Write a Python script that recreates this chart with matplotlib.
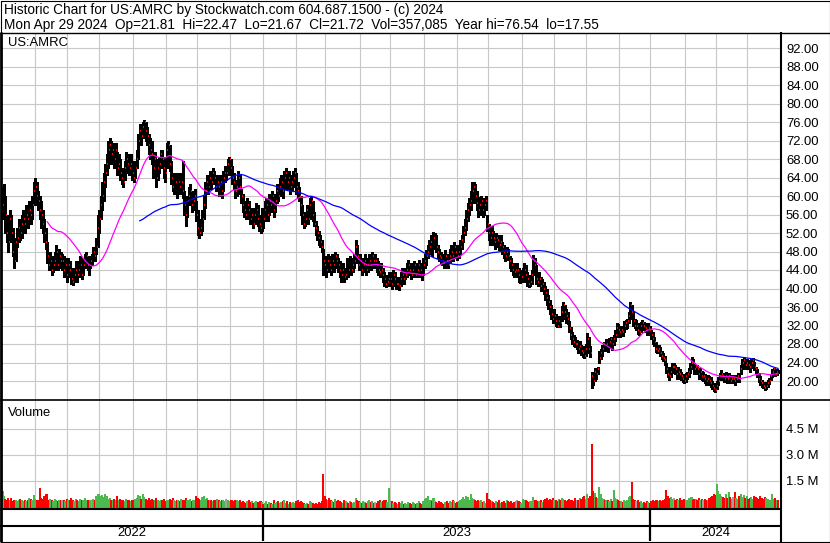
import matplotlib
matplotlib.use("Agg")
import matplotlib.pyplot as plt
import numpy as np
import pandas as pd

plt.rcParams['font.family'] = ['Liberation Sans', 'DejaVu Sans']

# trading days shown on the chart
dates = pd.bdate_range('2022-05-02', '2024-04-29')

# daily closes, one week per line
close = [
    58, 61, 56, 52, 50,  55, 52, 48, 46, 50,  51, 53, 52, 54, 55,  54, 56, 55, 57, 56,
    58, 61, 62, 60, 59,  57, 56, 54, 52, 50,  47, 45, 46, 44, 45,  46, 48, 45, 47, 46,
    46, 44, 45, 43, 45,  44, 42, 41.5, 43, 44,  43, 44, 45, 43, 45,  46, 47, 45, 44, 46,
    46, 48, 47, 49, 53,  55, 58, 60, 63, 65,  67, 70, 71, 69, 70,  68, 70, 66, 67, 65,
    64, 63, 66, 68, 67,  66, 67, 65, 64, 66,  68, 72, 74, 73, 75,  76, 74, 73, 71, 70,
    69, 66, 68, 64, 66,  67, 69, 68, 66, 65,  70, 71, 67, 64, 62,  62, 63, 61, 63, 62,
    63, 61, 58, 56, 59,  60, 61, 58, 59, 60,  56, 53, 52, 53, 55,  58, 61, 63, 62, 64,
    63, 65, 64, 62, 63,  62, 63, 61, 64, 65,  65, 67, 68, 66, 64,  63, 61, 62, 64, 62,
    60, 58, 57, 56, 58,  57, 55, 56, 54, 56,  57, 55, 54, 53, 56,  55, 57, 58, 56, 59,
    58, 60, 57, 59, 61,  60, 62, 63, 61, 64,  65, 63, 64, 62, 63,  64, 65, 62, 61, 60,
    58, 56, 54, 55, 57,  55, 58, 59, 56, 54,  53, 52, 51, 50, 49,  46, 45, 44, 46, 45,
    44, 46, 45, 47, 46,  45, 44, 43, 44, 42.5,  43, 45, 44, 46, 44,  45, 46, 49, 47, 45,
    46, 44, 45, 46, 44,  45, 46, 45, 47, 46,  46, 45, 44, 43.5, 44,  43, 42, 41, 41.5, 42,
    42, 41, 43, 42, 41,  41, 40.5, 42, 43, 42,  43, 44, 45, 44, 43,  44, 45, 43, 44, 45,
    44, 43, 45, 46, 47,  48, 49, 50, 48, 51,  51, 49, 48, 47, 46.5,  46, 45.5, 47, 46, 45,
    47, 48, 47, 49, 48,  47, 48, 49, 50.5, 52,  53, 55, 57, 58, 59,  61, 62, 60, 58.5, 57,
    58, 59, 57, 58, 59,  54, 52, 51, 52, 51,  50, 51, 50.5, 49.5, 50,  49, 48, 47, 48, 47,
    46, 45, 44, 43.5, 44,  44, 43, 42, 42.5, 43,  44, 43, 42, 41, 41.5,  43, 46, 45, 42, 41.5,
    42, 40.5, 41, 40, 39,  38, 37, 36, 34.5, 33.5,  34, 33, 32, 33, 32.5,  35, 36.5, 35, 34, 33.5,
    31.5, 30, 29, 28.5, 28,  28, 27, 27.5, 26.5, 26,  25.5, 27, 29, 27, 26,  21, 20, 22, 21.5, 22.5,
    25, 26, 27, 28, 27.5,  28, 27.5, 28.5, 29, 28,  29, 30, 31.5, 31, 30.5,  31, 30.5, 32, 32.5, 33,
    34, 36.5, 35, 33, 32,  32, 31, 30.5, 32, 32.5,  32, 31.5, 31, 31.5, 31,  30, 29, 28.5, 27, 26.5,
    27, 26, 25.5, 25, 24.5,  22.5, 21.5, 21, 22, 23,  23, 22.5, 21.5, 22, 21.5,  21, 20.5, 20, 21, 21.5,
    22, 23, 24, 23.5, 22.5,  23, 22.5, 21.5, 22, 21,  21, 20.5, 20, 20.5, 20,  19.5, 19, 18.5, 18, 19,
    20, 21, 21.5, 21, 20.5,  21, 20.5, 21, 20, 20.5,  20.5, 20, 20.5, 21, 20.5,  22.5, 24, 24.5, 23.5, 24,
    23.5, 23, 24, 24.5, 23,  22.5, 21.5, 20.5, 20, 19.5,  19, 18.5, 19, 19.5, 20,  21, 22, 22.5, 21.5, 22,
    21.72,
]

high = [
    62, 62.5, 60, 56, 53,  57, 56, 53, 49, 51,  53, 55, 54, 56, 57,  56, 58, 57, 59, 59,
    60, 63, 64, 63, 61,  60, 59, 57, 55, 53,  50, 48, 48, 47, 47,  48, 49.5, 48, 48.5, 48,
    47.5, 47, 46.5, 45.5, 46.5,  46, 44.5, 43.5, 44.5, 46,  45, 46, 47, 45.5, 46.5,  47.5, 48, 47, 46, 47,
    47.5, 49, 49, 51, 56,  57, 60, 63, 65, 67,  69, 72, 72.5, 72, 71.5,  71, 71.5, 69.5, 69, 68,
    66, 65.5, 67.5, 69.5, 69,  68, 69, 67.5, 66, 67.5,  70, 73.5, 75.5, 75, 76,  76.5, 76, 75, 73.5, 72.5,
    72, 69.5, 69.5, 68, 67.5,  68.5, 70, 70, 68.5, 67,  71.5, 72, 71, 67.5, 65,  64, 65, 63.5, 65, 64.5,
    65, 67.5, 61, 58.5, 60,  62, 62.5, 61, 60.5, 61.5,  59, 57, 55, 55, 57,  60, 63, 64.5, 64, 65.5,
    65, 66, 65.5, 64.5, 64.5,  64, 64.5, 63, 65.5, 66.5,  66.5, 68, 68.5, 68, 66.5,  65, 63.5, 63.5, 65.5, 64.5,
    61.5, 60.5, 59, 58, 59.5,  59, 57.5, 57.5, 56, 57.5,  58.5, 58, 56, 55, 57.5,  57, 59, 59.5, 58.5, 60.5,
    60, 61, 60, 60.5, 62.5,  62, 64, 64.5, 63.5, 65.5,  66, 65.5, 65.5, 64.5, 64.5,  65.5, 66, 65, 63, 62,
    60, 58, 56.5, 56.5, 58,  57.5, 59.5, 60, 59, 56.5,  54.5, 53.5, 52.5, 51.5, 50.5,  48.5, 47, 46, 47.5, 47,
    46, 47.5, 47, 48, 47.5,  46.5, 46, 45, 45.5, 44.5,  44.5, 46.5, 46, 47, 46,  46.5, 47.5, 50.5, 49.5, 47,
    47.5, 46.5, 46.5, 47.5, 46,  46.5, 47.5, 47, 48, 47.5,  47.5, 46.5, 46, 45, 45.5,  44.5, 43.5, 42.5, 43, 43.5,
    43.5, 42.5, 44, 43.5, 42.5,  42.5, 42, 43.5, 44.5, 43.5,  44.5, 45.5, 46.2, 45.5, 44.5,  45.5, 46, 45, 45.5, 46.2,
    45.5, 45, 46.5, 47.5, 48.3,  49.5, 50.5, 51.5, 50, 52.2,  52, 51.5, 49.5, 48.5, 48,  47.5, 47, 48.3, 47.5, 46.5,
    48.5, 49.5, 48.5, 50, 49.5,  48.5, 49.5, 50.5, 51.5, 53.5,  55, 57, 58.5, 59.5, 61,  63, 63, 62.5, 61, 59,
    59.8, 60, 59, 59.5, 60,  56, 54, 53, 53.5, 52.5,  51.5, 52, 51.5, 51, 51.5,  50, 49.5, 48.5, 49, 48.5,
    47, 46.5, 45.5, 45, 45.5,  45.5, 44.5, 43.5, 44, 44.5,  45.5, 45, 43.5, 42.5, 43,  44, 47.2, 46.5, 45, 43,
    43.5, 42.5, 42, 41.5, 40.5,  40, 38.5, 37.5, 36.5, 35,  35.5, 34.5, 33.5, 34, 34,  36.2, 37, 36.5, 35.5, 35,
    33, 31.7, 30.5, 30, 29.5,  28.9, 28.5, 28.6, 27.8, 27.5,  26.8, 28, 30.4, 29.5, 27.5,  22, 21.5, 22.8, 22.5, 23,
    26.5, 27, 27.8, 28.5, 28.3,  29, 28.6, 29.3, 29.5, 29,  30, 31, 32.5, 32.3, 31.5,  32, 31.5, 33, 33.2, 33.5,
    35, 37, 36.5, 35, 33.5,  33.2, 32.5, 31.5, 32.8, 33.2,  32.8, 32.5, 32, 32.5, 32,  31, 30.5, 29.5, 28.5, 27.8,
    27.8, 27.3, 26.5, 26, 25.5,  24, 23, 22.3, 23, 24,  24, 23.5, 23, 23, 22.6,  22, 21.5, 21, 21.8, 22,
    22.8, 24, 25.2, 24.8, 23.8,  23.5, 23.5, 22.8, 22.8, 22.2,  22, 21.5, 21, 21.3, 21,  20.8, 20, 19.5, 19, 20,
    20.8, 21.8, 22.4, 21.8, 21.3,  22, 21.4, 21.8, 21, 21.3,  21.3, 20.8, 21.2, 21.7, 21.4,  23.5, 24.8, 25.2, 24.6, 24.8,
    24.5, 24, 24.8, 25, 24.2,  23, 22.6, 21.8, 21, 20.3,  19.8, 19.3, 19.7, 20.2, 20.7,  21.6, 22.6, 22.9, 22.6, 22.6,
    22.47,
]

low = [
    55, 57, 52, 50, 48,  50, 51, 47, 44.5, 46,  49, 50, 50.5, 51, 53,  52, 53, 53, 54, 54,
    55, 58, 59, 58, 57,  55, 53, 52, 50, 48.5,  45.5, 44, 44, 43, 43.5,  44, 45.5, 44, 44.5, 44.5,
    44, 42.5, 43, 41.5, 43,  42.5, 41, 40.8, 41.5, 42.5,  41.5, 42.5, 43.5, 42, 43,  44.5, 45.5, 44, 43, 44.5,
    45, 46, 46, 47.5, 49,  52, 55, 57, 59, 62,  64.5, 66, 68, 67, 67.5,  66, 67, 64.5, 64.5, 63.5,
    62.5, 62, 63.5, 65.5, 65,  64.5, 65, 63.5, 63, 64,  66, 68, 71, 71, 72.5,  73, 72, 71, 69, 68,
    67, 64, 65, 62, 63.5,  65, 66.5, 66, 64, 63,  66, 68.5, 65.5, 62.5, 61,  60.5, 61, 59.5, 60.5, 60.5,
    61, 59.5, 56, 53.5, 55.5,  58, 59, 56.5, 57, 58,  54.5, 51.5, 51, 51.5, 52.5,  55, 57.5, 60.5, 60.5, 61.5,
    61.5, 62.5, 62.5, 61, 61.5,  60, 61, 59.5, 61, 63,  63.5, 64.5, 66, 64.5, 62.5,  61.5, 59.5, 60, 61.5, 60.5,
    58.5, 56.5, 55.5, 55, 56,  55, 54, 54, 53, 54,  55, 53.5, 52.5, 52, 52.5,  53, 54.5, 56, 54.5, 56,
    56.5, 57.5, 55.5, 56.5, 58.5,  59, 60, 61, 59.5, 61.5,  63, 61.5, 62, 60.5, 61,  62, 63, 60.5, 59.5, 59,
    56, 54, 53, 53.5, 55,  54, 55, 57, 54.5, 53.5,  51.5, 50.5, 49.5, 49, 48,  43, 43.5, 42.5, 43.5, 43.5,
    43, 43.5, 43.5, 45, 44.5,  43.5, 42.5, 41.5, 42.5, 41.5,  42, 43, 42.5, 44, 43,  43.5, 44.5, 45.5, 45.5, 44,
    44.5, 43, 43.5, 44.5, 43,  43.5, 44.5, 44, 45, 44.5,  44.5, 43.5, 43, 42.5, 43,  41.5, 40.5, 40.3, 40.5, 41,
    40.5, 39.8, 41, 40.5, 39.8,  40, 39.7, 40.5, 41.5, 41,  42, 42.5, 43.5, 43, 42,  42.5, 43.5, 42.5, 42.5, 43.5,
    42.5, 41.8, 43, 44.5, 45,  46.5, 47.5, 48, 47, 48.5,  49, 48, 46.5, 46, 45.5,  45, 44.4, 45, 44.5, 44.4,
    45.5, 46.5, 46, 47, 46.5,  46.2, 46.5, 47.5, 48.5, 50,  51.5, 52.6, 54.5, 56, 57,  58.5, 60, 58.5, 57, 55.5,
    56, 57, 55.5, 56, 57,  52.5, 50.5, 49.5, 50.5, 49.5,  48.5, 49.5, 49, 48.3, 48.5,  47.5, 46.5, 46, 46.5, 46.2,
    44.5, 43.8, 43, 42.5, 43,  42.5, 41.5, 41.2, 41.3, 41.5,  42.5, 41.5, 40.5, 40.3, 40.5,  41, 43, 43.5, 41, 40.5,
    40.5, 39.5, 39.8, 38.8, 37.5,  36.5, 35.5, 34.5, 33.5, 32.5,  32.5, 32, 31.7, 31.8, 31.7,  33, 34.5, 33.5, 32.5, 32.3,
    30.5, 29, 28, 27.5, 27.4,  27, 26, 26.3, 25.6, 25.2,  25, 25.3, 26.5, 26, 25.2,  18.5, 19.2, 20, 20.5, 21.5,
    24, 24.8, 25.5, 26.5, 26.5,  26.8, 26.3, 27.2, 27.8, 26.8,  27.8, 28.6, 29.5, 29.8, 29.5,  30, 29.8, 30.5, 31.3, 31.5,
    32.5, 33.5, 34, 32, 31.5,  31, 30.2, 30, 30.5, 31.2,  31, 30.5, 30, 30.5, 30,  29, 28, 27.5, 26.3, 26,
    26, 25.3, 24.8, 24.3, 23.5,  21.8, 20.8, 20.2, 20.8, 21.8,  22, 21.5, 20.5, 21, 20.4,  20.2, 19.8, 19.5, 19.8, 20.5,
    20.9, 21.8, 22.8, 22.6, 21.5,  22, 21.5, 20.5, 20.8, 20.2,  20, 19.5, 19.1, 19.6, 19.2,  18.8, 18.2, 17.8, 17.55, 18.2,
    19.2, 20.2, 20.6, 20.2, 19.8,  20.2, 19.6, 20.2, 19.6, 19.8,  19.6, 19.1, 19.7, 20.2, 19.8,  21.6, 22.5, 23.4, 22.6, 23,
    22.6, 22, 22.8, 23.4, 22.4,  21.8, 20.8, 19.8, 19.2, 18.8,  18.4, 18, 18.3, 18.8, 19.3,  20.2, 20.9, 21.6, 21, 21.2,
    21.67,
]

# daily volume, millions of shares
volume = [
    0.9, 0.6, 0.45, 0.4, 0.5,  0.35, 0.5, 0.3, 0.4, 0.35,  0.3, 0.35, 0.45, 0.35, 0.3,  0.4, 0.3, 0.35, 0.5, 0.45,
    0.35, 0.65, 0.45, 0.4, 0.35,  1.05, 0.5, 0.45, 0.6, 0.7,  0.75, 0.4, 0.45, 0.35, 0.3,  0.45, 0.35, 0.3, 0.4, 0.35,
    0.35, 0.4, 0.3, 0.45, 0.35,  0.4, 0.5, 0.35, 0.3, 0.45,  0.35, 0.3, 0.45, 0.4, 0.35,  0.5, 0.4, 0.35, 0.3, 0.35,
    0.35, 0.45, 0.4, 0.6, 0.7,  0.75, 0.6, 0.65, 0.55, 0.7,  0.6, 0.45, 0.5, 0.4, 0.35,  0.45, 0.4, 0.6, 0.35, 0.45,
    0.4, 0.35, 0.3, 0.45, 0.35,  0.35, 0.3, 0.4, 0.35, 0.45,  0.5, 0.65, 0.6, 0.45, 0.75,  0.55, 0.45, 0.4, 0.5, 0.35,
    0.45, 0.4, 0.35, 0.5, 0.35,  0.3, 0.4, 0.35, 0.45, 0.3,  0.4, 0.35, 0.45, 0.35, 0.5,  0.35, 0.3, 0.4, 0.35, 0.3,
    0.45, 0.35, 0.4, 0.5, 0.35,  0.35, 0.45, 0.3, 0.35, 0.4,  0.6, 0.5, 0.45, 0.4, 0.55,  0.6, 0.45, 0.5, 0.4, 0.35,
    0.35, 0.3, 0.4, 0.35, 0.45,  0.35, 0.3, 0.35, 0.4, 0.3,  0.45, 0.35, 0.3, 0.35, 0.4,  0.3, 0.35, 0.4, 0.3, 0.35,
    0.25, 0.3, 0.25, 0.2, 0.3,  0.35, 0.25, 0.3, 0.2, 0.25,  0.3, 0.25, 0.2, 0.3, 0.25,  0.15, 0.2, 0.3, 0.15, 0.25,
    0.2, 0.15, 0.35, 0.2, 0.25,  0.3, 0.2, 0.25, 0.3, 0.35,  0.2, 0.3, 0.15, 0.25, 0.2,  0.25, 0.2, 0.3, 0.35, 0.25,
    0.3, 0.25, 0.2, 0.15, 0.2,  0.15, 0.3, 0.25, 0.2, 0.15,  0.2, 0.15, 0.25, 0.2, 0.3,  1.85, 0.6, 0.45, 0.35, 0.5,
    0.4, 0.3, 0.25, 0.45, 0.3,  0.35, 0.3, 0.25, 0.2, 0.4,  0.3, 0.25, 0.2, 0.3, 0.25,  0.2, 0.25, 0.5, 0.35, 0.3,
    0.25, 0.2, 0.3, 0.25, 0.2,  0.3, 0.35, 0.25, 0.3, 0.2,  0.25, 0.2, 0.3, 0.35, 0.25,  0.3, 0.35, 0.4, 0.25, 1.05,
    0.35, 0.3, 0.2, 0.25, 0.2,  0.15, 0.25, 0.2, 0.3, 0.15,  0.2, 0.15, 0.25, 0.2, 0.15,  0.25, 0.2, 0.15, 0.2, 0.3,
    0.2, 0.15, 0.3, 0.45, 0.5,  0.6, 0.4, 0.35, 0.3, 0.5,  0.3, 0.25, 0.2, 0.3, 0.25,  0.2, 0.15, 0.25, 0.3, 0.2,
    0.3, 0.25, 0.35, 0.3, 0.2,  0.25, 0.3, 0.35, 0.45, 0.55,  0.45, 0.6, 0.55, 0.4, 0.7,  0.5, 0.45, 0.35, 0.3, 0.4,
    0.3, 0.35, 0.25, 0.3, 0.2,  0.8, 0.45, 0.35, 0.3, 0.25,  0.2, 0.3, 0.25, 0.35, 0.2,  0.25, 0.3, 0.2, 0.35, 0.3,
    0.25, 0.3, 0.2, 0.25, 0.3,  0.35, 0.3, 0.25, 0.2, 0.45,  0.4, 0.35, 0.3, 0.25, 0.3,  0.3, 0.55, 0.4, 0.35, 0.3,
    0.3, 0.35, 0.25, 0.4, 0.45,  0.5, 0.4, 0.45, 0.35, 0.5,  0.35, 0.4, 0.3, 0.45, 0.35,  0.5, 0.45, 0.35, 0.3, 0.4,
    0.45, 0.35, 0.4, 0.3, 0.5,  0.4, 0.35, 0.5, 0.45, 0.55,  0.6, 0.45, 0.7, 0.5, 0.6,  3.6, 0.9, 0.8, 0.55, 0.5,
    1.15, 0.7, 0.5, 0.45, 0.4,  0.35, 0.4, 0.3, 0.45, 0.3,  0.95, 0.5, 0.45, 0.35, 0.3,  0.3, 0.25, 0.35, 0.3, 0.4,
    0.55, 0.6, 1.4, 0.45, 0.35,  0.3, 0.35, 0.25, 0.3, 0.2,  0.25, 0.2, 0.3, 0.25, 0.2,  0.3, 0.35, 0.3, 0.4, 0.35,
    0.3, 0.35, 0.3, 0.4, 0.45,  0.95, 0.6, 0.5, 0.55, 0.45,  0.5, 0.4, 0.45, 0.35, 0.5,  0.35, 0.4, 0.45, 0.35, 0.4,
    0.5, 0.45, 0.55, 0.4, 0.45,  0.45, 0.4, 0.5, 0.35, 0.45,  0.4, 0.45, 0.35, 0.4, 0.5,  0.55, 0.6, 0.7, 0.65, 1.3,
    0.9, 0.7, 0.6, 0.55, 0.5,  0.75, 0.5, 0.85, 0.55, 0.45,  0.55, 0.85, 0.5, 0.45, 0.6,  0.75, 0.55, 0.65, 0.5, 0.6,
    0.45, 0.5, 0.55, 0.45, 0.6,  0.55, 0.5, 0.45, 0.6, 0.5,  0.45, 0.55, 0.5, 0.45, 0.4,  0.4, 0.7, 0.45, 0.5, 0.4,
    0.357,
]

price_ticks = [20, 24, 28, 32, 36, 40, 44, 48, 52, 56, 60, 64, 68, 72, 76, 80, 84, 88, 92]
vol_ticks = [1.5, 3.0, 4.5]
vol_tick_labels = ['1.5 M', '3.0 M', '4.5 M']

title1 = 'Historic Chart for US:AMRC by Stockwatch.com 604.687.1500 - (c) 2024'
title2 = ('Mon Apr 29 2024  Op=21.81  Hi=22.47  Lo=21.67  Cl=21.72  '
          'Vol=357,085  Year hi=76.54  lo=17.55')

n = len(dates)
x = np.arange(n)
cl = pd.Series(close, dtype=float)
ma_short = cl.rolling(31).mean()
ma_long = cl.rolling(93).mean()

W, H = 830, 543
fig = plt.figure(figsize=(W / 100, H / 100), dpi=100)
fig.patch.set_facecolor('white')


def box(x0, y0, x1, y1):
    return [x0 / W, 1 - y1 / H, (x1 - x0) / W, (y1 - y0) / H]


grid_c = '#c8c8c8'
ppb = (778 - 2.5) / (n - 1)
xlim = (-0.5 / ppb, (n - 1) + 3 / ppb)
lab_fs = 9.4

# month gridlines and year boundaries
month_starts = [i for i in range(1, n) if dates[i].month != dates[i - 1].month]
year_starts = [i for i in month_starts if dates[i].month == 1]

ax = fig.add_axes(box(2, 33, 781, 400))
ax.set_xlim(*xlim)
p_top = 20 + (381 - 33) / 4.625
p_bot = 20 - (400 - 381) / 4.625
ax.set_ylim(p_bot, p_top)
for p in price_ticks:
    ax.axhline(p, color=grid_c, lw=0.8, zorder=0)
for i in month_starts:
    ax.axvline(i - 0.5, color=grid_c, lw=0.8, zorder=0)
ax.vlines(x, low, high, color='black', lw=0.75, zorder=2, antialiased=False)
# close tick: a short red mark just right of each bar
ax.hlines(close, x + 0.35, x + 1.0, color='red', lw=1.3, zorder=3,
          antialiased=False)
ax.plot(x, ma_short, color='#ff00ff', lw=0.9, zorder=4)
ax.plot(x, ma_long, color='#0000ff', lw=0.9, zorder=4)
ax.set_xticks([])
ax.yaxis.tick_right()
ax.set_yticks(price_ticks)
ax.set_yticklabels([f'{p:.2f}' for p in price_ticks])
ax.tick_params(axis='y', length=0, pad=3.6, labelsize=lab_fs)
for s in ax.spines.values():
    s.set_visible(False)
ax.text(3.8, p_top - 2.1, 'US:AMRC', fontsize=lab_fs, va='center', ha='left')

# volume panel
vax = fig.add_axes(box(2, 400, 781, 509))
vax.set_xlim(*xlim)
v_bot = -(509 - 506.5) / 17.33
v_top = (506.5 - 400) / 17.33
vax.set_ylim(v_bot, v_top)
for v in vol_ticks:
    vax.axhline(v, color=grid_c, lw=0.8, zorder=0)
for i in month_starts:
    vax.axvline(i - 0.5, color=grid_c, lw=0.8, zorder=0)
colors = []
for i in range(n):
    if i == 0 or close[i] > close[i - 1]:
        colors.append('#4db84d')
    elif close[i] < close[i - 1]:
        colors.append('#ff0000')
    else:
        colors.append('#a0a0a0')
vax.bar(x, np.array(volume) - v_bot, bottom=v_bot, width=1.35, color=colors,
        linewidth=0, zorder=2, antialiased=False)
vax.set_xticks([])
vax.yaxis.tick_right()
vax.set_yticks(vol_ticks)
vax.set_yticklabels(vol_tick_labels)
vax.tick_params(axis='y', length=0, pad=3.6, labelsize=lab_fs)
for s in vax.spines.values():
    s.set_visible(False)
vax.text(3.8, v_top - 0.75, 'Volume', fontsize=lab_fs, va='center', ha='left')

# date band
dax = fig.add_axes(box(2, 509, 781, 541))
dax.set_xlim(*xlim)
dax.set_ylim(0, 1)
dax.axis('off')
edges = [xlim[0]] + [i - 0.5 for i in year_starts] + [xlim[1]]
years = [dates[0].year] + [dates[i].year for i in year_starts]
for a, b, yr in zip(edges[:-1], edges[1:], years):
    dax.text((a + b) / 2, 0.25, str(yr), ha='center', va='center', fontsize=lab_fs)
for i in year_starts:
    dax.axvline(i - 0.5, color='black', lw=1.6)

# frame lines and header in pixel coordinates
ov = fig.add_axes([0, 0, 1, 1], zorder=10)
ov.set_xlim(0, W)
ov.set_ylim(H, 0)
ov.axis('off')
ov.patch.set_alpha(0)
k = dict(color='black', solid_capstyle='butt')
ov.plot([0.5, 0.5, 829.5, 829.5, 0.5], [0.5, 542, 542, 0.5, 0.5], lw=0.8, **k)
ov.plot([0, 830], [32.5, 32.5], lw=1.0, **k)
ov.plot([1.2, 1.2], [32, 542], lw=2.0, **k)
ov.plot([781, 781], [32, 542], lw=1.5, **k)
ov.plot([0, 830], [400, 400], lw=1.2, **k)
ov.plot([0, 781], [509, 509], lw=1.5, **k)
ov.plot([0, 781], [526, 526], lw=1.5, **k)
ov.text(4, 10, title1, fontsize=9.8, va='center', ha='left')
ov.text(4, 25, title2, fontsize=9.8, va='center', ha='left')

fig.savefig('out.png', dpi=100)
